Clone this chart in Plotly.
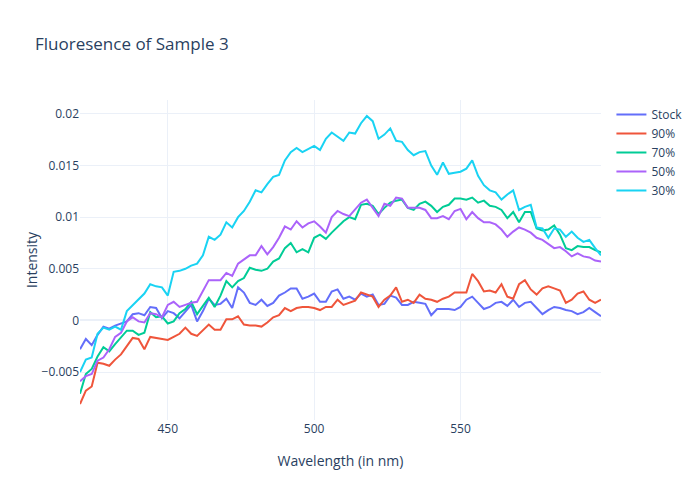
import plotly.graph_objects as go

wavelength = list(range(420, 600, 2))

stock = [-0.0028, -0.0018, -0.0024, -0.0014, -0.0006, -0.0008, -0.0005, -0.0003, -0.0001, 0.0006,
         0.0007, 0.0005, 0.0013, 0.0012, 0.0002, 0.0009, 0.0007, 0.0002, 0.0009, 0.0015,
         -0.0001, 0.0009, 0.0021, 0.0015, 0.0016, 0.0021, 0.0012, 0.0032, 0.0027, 0.0017,
         0.0015, 0.0020, 0.0014, 0.0017, 0.0024, 0.0027, 0.0031, 0.0031, 0.0021, 0.0023,
         0.0026, 0.0018, 0.0018, 0.0028, 0.0030, 0.0021, 0.0023, 0.0020, 0.0026, 0.0023,
         0.0025, 0.0015, 0.0016, 0.0024, 0.0022, 0.0015, 0.0015, 0.0018, 0.0017, 0.0016,
         0.0005, 0.0011, 0.0011, 0.0011, 0.0010, 0.0013, 0.0020, 0.0023, 0.0017, 0.0011,
         0.0013, 0.0017, 0.0018, 0.0014, 0.0020, 0.0013, 0.0017, 0.0018, 0.0012, 0.0006,
         0.0010, 0.0013, 0.0012, 0.0010, 0.0009, 0.0006, 0.0008, 0.0012, 0.0008, 0.0004]

p90 = [-0.0081, -0.0068, -0.0064, -0.0041, -0.0042, -0.0044, -0.0038, -0.0033, -0.0025, -0.0017,
       -0.0018, -0.0028, -0.0016, -0.0017, -0.0018, -0.0019, -0.0016, -0.0013, -0.0007, -0.0013,
       -0.0015, -0.0009, -0.0004, -0.0009, -0.0009, 0.0001, 0.0001, 0.0004, -0.0004, -0.0005,
       -0.0005, -0.0006, -0.0002, 0.0003, 0.0005, 0.0012, 0.0009, 0.0012, 0.0013, 0.0013,
       0.0012, 0.0010, 0.0013, 0.0013, 0.0020, 0.0015, 0.0017, 0.0019, 0.0027, 0.0025,
       0.0023, 0.0013, 0.0020, 0.0024, 0.0032, 0.0018, 0.0020, 0.0017, 0.0025, 0.0021,
       0.0020, 0.0018, 0.0021, 0.0023, 0.0027, 0.0027, 0.0027, 0.0045, 0.0038, 0.0028,
       0.0029, 0.0027, 0.0035, 0.0023, 0.0021, 0.0035, 0.0039, 0.0030, 0.0025, 0.0031,
       0.0033, 0.0031, 0.0029, 0.0017, 0.0020, 0.0026, 0.0028, 0.0020, 0.0017, 0.0020]

p70 = [-0.0071, -0.0052, -0.0047, -0.0035, -0.0026, -0.0030, -0.0023, -0.0016, -0.0010, -0.0010,
       -0.0014, -0.0012, 0.0008, 0.0003, 0.0004, -0.0003, -0.0001, 0.0007, 0.0011, 0.0018,
       0.0006, 0.0014, 0.0022, 0.0013, 0.0024, 0.0038, 0.0032, 0.0038, 0.0041, 0.0051,
       0.0049, 0.0048, 0.0050, 0.0057, 0.0060, 0.0070, 0.0075, 0.0066, 0.0069, 0.0066,
       0.0080, 0.0083, 0.0079, 0.0085, 0.0091, 0.0096, 0.0100, 0.0098, 0.0112, 0.0113,
       0.0111, 0.0103, 0.0109, 0.0114, 0.0116, 0.0117, 0.0109, 0.0107, 0.0113, 0.0115,
       0.0111, 0.0105, 0.0110, 0.0112, 0.0118, 0.0118, 0.0117, 0.0119, 0.0114, 0.0116,
       0.0111, 0.0110, 0.0107, 0.0099, 0.0105, 0.0095, 0.0105, 0.0105, 0.0089, 0.0087,
       0.0088, 0.0092, 0.0083, 0.0070, 0.0068, 0.0072, 0.0071, 0.0071, 0.0068, 0.0066]

p50 = [-0.0059, -0.0054, -0.0052, -0.0039, -0.0036, -0.0028, -0.0016, -0.0012, -0.0001, 0.0003,
       -0.0001, -0.0002, 0.0007, 0.0006, 0.0003, 0.0015, 0.0018, 0.0013, 0.0015, 0.0017,
       0.0018, 0.0029, 0.0039, 0.0039, 0.0039, 0.0046, 0.0043, 0.0055, 0.0059, 0.0063,
       0.0063, 0.0072, 0.0064, 0.0071, 0.0080, 0.0091, 0.0088, 0.0096, 0.0090, 0.0094,
       0.0096, 0.0091, 0.0085, 0.0100, 0.0106, 0.0103, 0.0101, 0.0107, 0.0114, 0.0117,
       0.0109, 0.0101, 0.0113, 0.0111, 0.0119, 0.0118, 0.0109, 0.0109, 0.0109, 0.0107,
       0.0099, 0.0099, 0.0101, 0.0098, 0.0106, 0.0108, 0.0098, 0.0105, 0.0099, 0.0095,
       0.0095, 0.0093, 0.0088, 0.0081, 0.0086, 0.0090, 0.0088, 0.0085, 0.0080, 0.0078,
       0.0074, 0.0070, 0.0071, 0.0067, 0.0062, 0.0065, 0.0062, 0.0061, 0.0058, 0.0057]

p30 = [-0.0050, -0.0038, -0.0036, -0.0013, -0.0007, -0.0009, -0.0006, -0.0009, 0.0009, 0.0015,
       0.0020, 0.0026, 0.0035, 0.0033, 0.0032, 0.0024, 0.0047, 0.0048, 0.0050, 0.0053,
       0.0055, 0.0063, 0.0081, 0.0078, 0.0083, 0.0095, 0.0090, 0.0100, 0.0106, 0.0115,
       0.0126, 0.0124, 0.0132, 0.0139, 0.0141, 0.0155, 0.0163, 0.0167, 0.0163, 0.0166,
       0.0169, 0.0165, 0.0176, 0.0182, 0.0178, 0.0174, 0.0182, 0.0181, 0.0191, 0.0198,
       0.0193, 0.0176, 0.0180, 0.0186, 0.0174, 0.0173, 0.0165, 0.0160, 0.0163, 0.0164,
       0.0150, 0.0141, 0.0153, 0.0142, 0.0143, 0.0144, 0.0147, 0.0155, 0.0140, 0.0131,
       0.0126, 0.0124, 0.0117, 0.0122, 0.0126, 0.0107, 0.0110, 0.0112, 0.0090, 0.0089,
       0.0080, 0.0089, 0.0088, 0.0081, 0.0086, 0.0080, 0.0076, 0.0078, 0.0070, 0.0063]

series_names = ["Stock", "90%", "70%", "50%", "30%"]
series_values = [stock, p90, p70, p50, p30]
series_colors = ["#636efa", "#EF553B", "#00cc96", "#ab63fa", "#19d3f3"]

fig = go.Figure()
for name, vals, col in zip(series_names, series_values, series_colors):
    fig.add_trace(go.Scatter(x=wavelength, y=vals, mode="lines", name=name,
                             line=dict(color=col, width=2)))

fig.update_layout(
    template="plotly_white",
    width=700,
    height=500,
    margin=dict(l=80, r=99, t=100, b=80),
    title=dict(text="Fluoresence of Sample 3", x=0.05, xanchor="left"),
    xaxis=dict(title=dict(text="Wavelength (in nm)", standoff=20), automargin=False),
    yaxis=dict(title=dict(text="Intensity", standoff=0), automargin=False),
)

fig.write_html("out.html", config={"displayModeBar": False},
               post_script="document.body.style.margin='0';")
